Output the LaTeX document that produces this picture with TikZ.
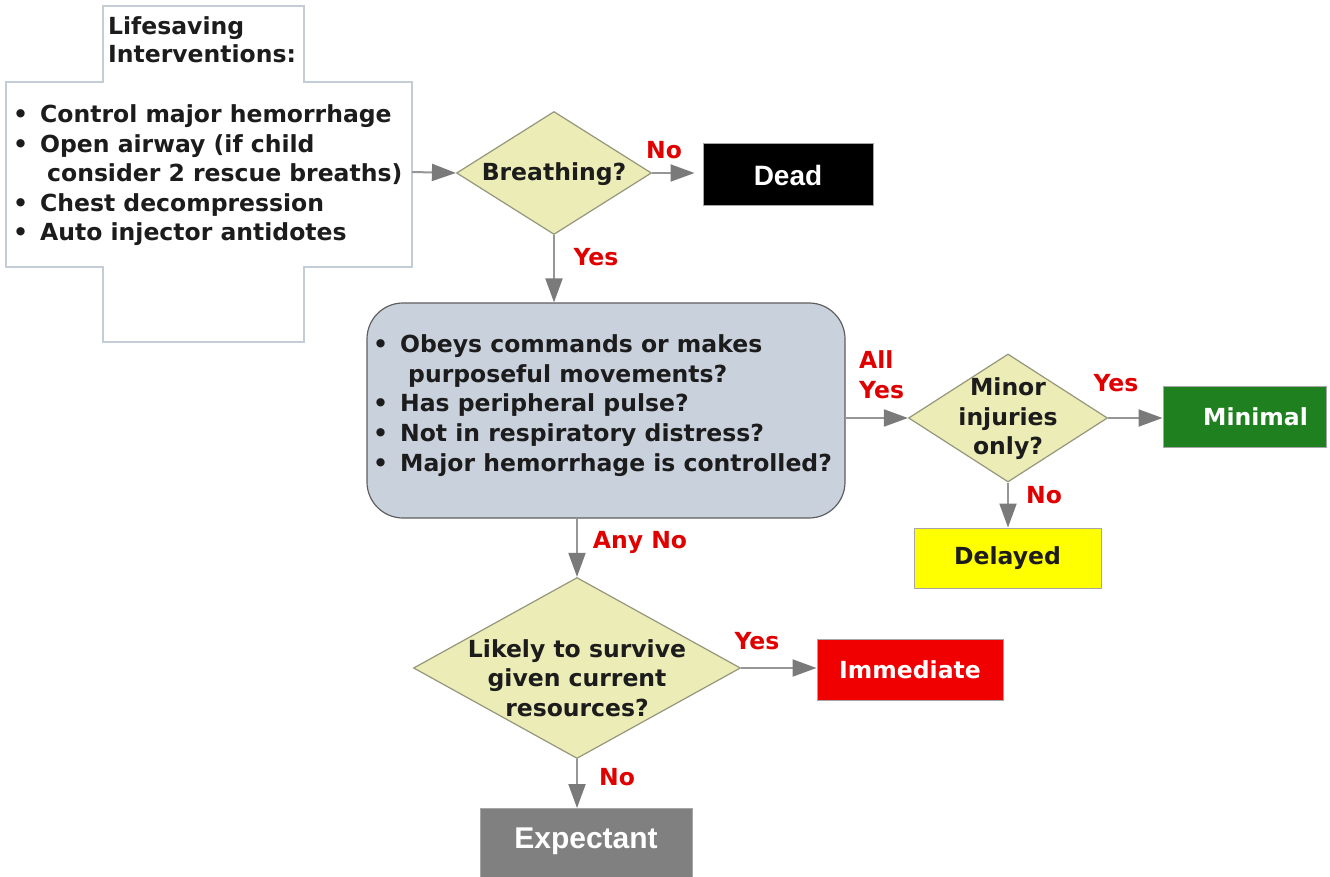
\documentclass[tikz,border=0pt]{standalone}
\usepackage{fontspec}
\setmainfont{DejaVu Sans}
\newfontfamily\arialfont{Liberation Sans}
\usetikzlibrary{shapes.geometric,arrows.meta}

\definecolor{qfill}{RGB}{236,236,182}
\definecolor{qdraw}{RGB}{150,150,125}
\definecolor{boxfill}{RGB}{201,209,221}
\definecolor{boxdraw}{RGB}{95,95,95}
\definecolor{crossdraw}{RGB}{196,204,214}
\definecolor{linegray}{RGB}{150,150,150}
\definecolor{headgray}{RGB}{122,122,122}
\definecolor{lblred}{RGB}{225,0,0}
\definecolor{mingreen}{RGB}{30,128,30}
\definecolor{delyellow}{RGB}{255,255,0}
\definecolor{immred}{RGB}{240,0,0}
\definecolor{expgray}{RGB}{128,128,128}
\definecolor{txt}{RGB}{28,28,28}

% bullet with a fixed gap before the item text
\newcommand\itm{\makebox[27pt][l]{\textbullet}}

\begin{document}
\begin{tikzpicture}[x=1pt,y=-1pt,
  font=\fontsize{23.5}{29.6}\selectfont\bfseries,
  question/.style={diamond, draw=qdraw, line width=1.2pt, fill=qfill, inner sep=0pt},
  qtext/.style={align=center, text=txt, inner sep=0pt},
  listtext/.style={align=left, text=txt, inner sep=0pt, anchor=base west},
  outcome/.style={rectangle, draw=black!35, line width=1pt, inner sep=0pt},
  sanslabel/.style={font=\arialfont\fontsize{#1}{#1}\selectfont\bfseries},
  flow/.style={draw=linegray, line width=2pt, -{Triangle[length=24pt,width=17pt,color=headgray]}},
  answer/.style={text=lblred, inner sep=0pt},
]
\useasboundingbox (0,0) rectangle (1330,877);
\clip (0,0) rectangle (1330,877);
\fill[white] (0,0) rectangle (1330,877);

% cross-shaped panel of lifesaving interventions
\draw[crossdraw, line width=1.2pt, fill=white]
  (103,6) -- (304,6) -- (304,82) -- (412,82) -- (412,267) -- (304,267)
  -- (304,342) -- (103,342) -- (103,267) -- (6,267) -- (6,82) -- (103,82) -- cycle;
\coordinate (crossR) at (412,172);
% multi-line nodes: the base anchor sits on the last line
\node[listtext, font=\fontsize{23.5}{28}\selectfont\bfseries] (title) at (108,63) {Lifesaving\\Interventions:};
\node[listtext] (lsi) at (13,241) {\itm Control major hemorrhage\\
  \itm Open airway (if child\\
  \hspace*{34pt}consider 2 rescue breaths)\\
  \itm Chest decompression\\
  \itm Auto injector antidotes};

% breathing check
\node[question, minimum width=195pt, minimum height=123pt] (breath) at (554,173) {};
\node[qtext] (breathT) at (554,174) {Breathing?};
\node[outcome, fill=black, minimum width=170pt, minimum height=62pt, text=white,
  sanslabel=28] (dead) at (788,175) {Dead};

% assessment box
\node[rectangle, rounded corners=36pt, draw=boxdraw, fill=boxfill, line width=1.2pt,
  minimum width=478pt, minimum height=215pt] (obeys) at (606,410.5) {};
\node[listtext] (obeysT) at (373,471) {\itm Obeys commands or makes\\
  \hspace*{35pt}purposeful movements?\\
  \itm Has peripheral pulse?\\
  \itm Not in respiratory distress?\\
  \itm Major hemorrhage is controlled?};

% minor injuries branch
\node[question, minimum width=199pt, minimum height=128pt] (minor) at (1008,418) {};
\node[qtext] (minorT) at (1008,419) {Minor\\injuries\\only?};
\node[outcome, fill=mingreen, minimum width=163pt, minimum height=61pt, text=white]
  (minimal) at (1244.5,416.5) {\hspace*{22pt}Minimal};
\node[outcome, fill=delyellow, minimum width=187pt, minimum height=60pt, text=txt]
  (delayed) at (1007.5,558) {Delayed};

% survival branch
\node[question, minimum width=327pt, minimum height=181pt] (likely) at (577,668) {};
\node[qtext] (likelyT) at (577,678) {Likely to survive\\given current\\resources?};
\node[outcome, fill=immred, minimum width=186pt, minimum height=61pt, text=white]
  (immediate) at (910,669.5) {Immediate};
\node[outcome, fill=expgray, anchor=north, minimum width=212pt, minimum height=72pt,
  text=white, sanslabel=30] (expectant) at (586,808) {\raisebox{12pt}{Expectant}};

% connectors
\draw[flow] (crossR) -- (breath.west);
\draw[flow, shorten >=8pt] (breath.east) -- (breath.east -| dead.west);
\draw[flow] (breath.south) -- (breath.south |- obeys.north);
\draw[flow] (minor.west -| obeys.east) -- (minor.west);
\draw[flow] (minor.east) -- (minor.east -| minimal.west);
\draw[flow] (minor.south) -- (minor.south |- delayed.north);
\draw[flow] (likely.north |- obeys.south) -- (likely.north);
\draw[flow] (likely.east) -- (likely.east -| immediate.west);
\draw[flow] (likely.south) -- (likely.south |- expectant.north);

% answer labels
\node[answer] (noDead) at (664,150) {No};
\node[answer] (yesBreath) at (596,257) {Yes};
\node[answer, align=left, anchor=west] (allYes) at (859,375) {All\\Yes};
\node[answer] (yesMinor) at (1116,383) {Yes};
\node[answer] (noMinor) at (1044,495) {No};
\node[answer] (anyNo) at (640,542) {Any No};
\node[answer] (yesLikely) at (757,641) {Yes};
\node[answer] (noLikely) at (617,777) {No};
\end{tikzpicture}
\end{document}
